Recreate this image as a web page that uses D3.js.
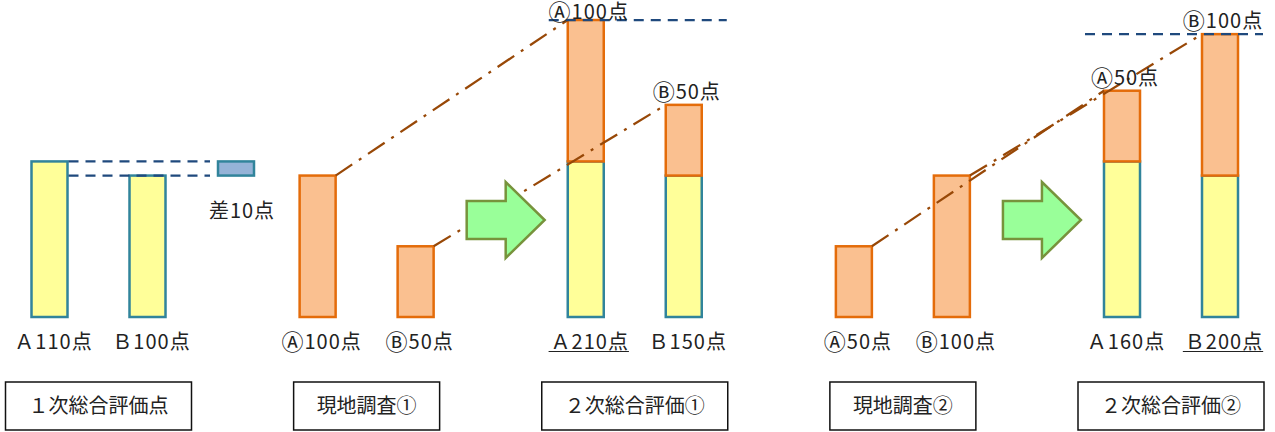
<!DOCTYPE html>
<html>
<head>
<meta charset="utf-8">
<script src="https://cdn.jsdelivr.net/npm/d3@7"></script>
<style>
    body { margin: 0; background: #fff; }
    svg text { font-family: "Noto Sans CJK JP", "Noto Sans", sans-serif; fill: #222; }
    svg tspan.circ { font-size: 22px; }
</style>
</head>
<body>
<svg id="chartSvg"></svg>
<script>
const stages = ["１次総合評価点", "現地調査①", "２次総合評価①", "現地調査②", "２次総合評価②"];
const candidates = ["A", "B"];
const wideLetters = ["Ａ", "Ｂ"];
const circledLetters = ["Ⓐ", "Ⓑ"];
const firstScores = [110, 100];
const surveyScores1 = [100, 50];
const surveyScores2 = [50, 100];
const unit = "点";

class Chart {

    constructor() {
        this.width = 1275;
        this.height = 432;
        this.barWidth = 36;
        this.draw();
    }

    // label text, with the circled letter in its own (bigger) tspan
    static label(sel) {
        sel.each(function (d) {
            let t = d3.select(this);
            if (d.circ) {
                t.append("tspan").attr("class", "circ").attr("dy", 1).text(d.circ);
                t.append("tspan").attr("dy", -1).text(d.t);
            } else {
                t.text(d.t);
            }
        });
    }

    draw() {
        let self = this;
        let bw = self.barWidth;

        let svg = d3.select("#chartSvg")
            .attr("width", self.width)
            .attr("height", self.height);

        let x = d3.scalePoint().domain(stages).range([98.5, 1171]);
        let xc = d3.scalePoint().domain(candidates).range([-49, 49]);
        let y = d3.scaleLinear().domain([0, 210]).range([317, 20]);

        let cx = (s, i) => x(stages[s]) + xc(candidates[i]);

        // second evaluations = first score + survey score
        let totals1 = firstScores.map((v, i) => v + surveyScores1[i]);
        let totals2 = firstScores.map((v, i) => v + surveyScores2[i]);

        let segments = [];
        candidates.forEach(function (c, i) {
            segments.push({ s: 0, i: i, lo: 0, hi: firstScores[i], kind: "base" });
            segments.push({ s: 1, i: i, lo: 0, hi: surveyScores1[i], kind: "survey" });
            segments.push({ s: 2, i: i, lo: 0, hi: firstScores[i], kind: "base" });
            segments.push({ s: 2, i: i, lo: firstScores[i], hi: totals1[i], kind: "survey" });
            segments.push({ s: 3, i: i, lo: 0, hi: surveyScores2[i], kind: "survey" });
            segments.push({ s: 4, i: i, lo: 0, hi: firstScores[i], kind: "base" });
            segments.push({ s: 4, i: i, lo: firstScores[i], hi: totals2[i], kind: "survey" });
        });

        let fills = { base: "#ffff99", survey: "#fac090" };
        let strokes = { base: "#31849b", survey: "#e46c0a" };

        svg.selectAll("rect.bar")
            .data(segments)
            .join("rect")
            .attr("class", "bar")
            .attr("x", d => cx(d.s, d.i) - bw / 2)
            .attr("y", d => y(d.hi))
            .attr("width", bw)
            .attr("height", d => y(d.lo) - y(d.hi))
            .style("fill", d => fills[d.kind])
            .style("stroke", d => strokes[d.kind])
            .style("stroke-width", 2.5);

        // difference box of the first evaluation
        let diffX = cx(0, 1) + 88.5;
        svg.append("rect")
            .attr("x", diffX - bw / 2)
            .attr("y", y(firstScores[0]))
            .attr("width", bw)
            .attr("height", y(firstScores[1]) - y(firstScores[0]))
            .style("fill", "#95b3d7")
            .style("stroke", "#31849b")
            .style("stroke-width", 2.5);

        svg.selectAll("line.diff")
            .data(firstScores)
            .join("line")
            .attr("class", "diff")
            .attr("x1", cx(0, 0) + bw / 2 + 1)
            .attr("x2", diffX - bw / 2 - 8)
            .attr("y1", d => y(d))
            .attr("y2", d => y(d))
            .style("stroke", "#1f497d")
            .style("stroke-width", 2.25)
            .style("stroke-dasharray", "10,7");

        svg.append("text")
            .attr("x", diffX + 6)
            .attr("y", 218)
            .attr("text-anchor", "middle")
            .style("font-size", "20px")
            .style("letter-spacing", "1px")
            .text("差" + (firstScores[0] - firstScores[1]) + unit);

        // dash-dot connectors from survey bars to the stacked bars
        let links = [];
        candidates.forEach(function (c, i) {
            links.push({ s: 1, i: i, from: surveyScores1[i], to: totals1[i] });
            links.push({ s: 3, i: i, from: surveyScores2[i], to: totals2[i] });
        });

        svg.selectAll("line.link")
            .data(links)
            .join("line")
            .attr("class", "link")
            .attr("x1", d => cx(d.s, d.i) + bw / 2)
            .attr("y1", d => y(d.from))
            .attr("x2", d => cx(d.s + 1, d.i) - bw / 2)
            .attr("y2", d => y(d.to))
            .style("stroke", "#984807")
            .style("stroke-width", 2.25)
            .style("stroke-dasharray", "20,8,3,8");

        // arrows
        let arrow = function (x0) {
            return "M" + x0 + ",201 L" + (x0 + 39) + ",201 L" + (x0 + 39) + ",182 L" + (x0 + 78) + ",220 L" +
                (x0 + 39) + ",258 L" + (x0 + 39) + ",239 L" + x0 + ",239 Z";
        };
        svg.selectAll("path.arrow")
            .data([1, 3])
            .join("path")
            .attr("class", "arrow")
            .attr("d", s => arrow((x(stages[s]) + x(stages[s + 1])) / 2 + 5 - 39))
            .style("fill", "#99ff99")
            .style("stroke", "#77933c")
            .style("stroke-width", 2.5);

        // leader line on the stacked stages
        let leaders = [{ s: 2, totals: totals1 }, { s: 4, totals: totals2 }];
        svg.selectAll("line.lead")
            .data(leaders)
            .join("line")
            .attr("class", "lead")
            .attr("x1", d => x(stages[d.s]) - 86)
            .attr("x2", d => x(stages[d.s]) + 92)
            .attr("y1", d => y(d3.max(d.totals)))
            .attr("y2", d => y(d3.max(d.totals)))
            .style("stroke", "#1f497d")
            .style("stroke-width", 2.25)
            .style("stroke-dasharray", "10,7");

        // labels under the bars
        let labels = [];
        candidates.forEach(function (c, i) {
            labels.push({ s: 0, i: i, t: wideLetters[i] + firstScores[i] + unit, u: false });
            labels.push({ s: 1, i: i, circ: circledLetters[i], t: surveyScores1[i] + unit, u: false });
            labels.push({ s: 2, i: i, t: wideLetters[i] + totals1[i] + unit, u: totals1[i] === d3.max(totals1) });
            labels.push({ s: 3, i: i, circ: circledLetters[i], t: surveyScores2[i] + unit, u: false });
            labels.push({ s: 4, i: i, t: wideLetters[i] + totals2[i] + unit, u: totals2[i] === d3.max(totals2) });
        });

        svg.selectAll("text.lab")
            .data(labels)
            .join("text")
            .attr("class", "lab")
            .attr("x", d => cx(d.s, d.i) + 4)
            .attr("y", 349)
            .attr("text-anchor", "middle")
            .style("font-size", "20px")
            .style("letter-spacing", "1px")
            .call(Chart.label)
            .each(function (d) {
                if (!d.u) return;
                let b = this.getBBox();
                svg.append("line")
                    .attr("x1", b.x - 2).attr("x2", b.x + b.width)
                    .attr("y1", 351.5).attr("y2", 351.5)
                    .style("stroke", "#222")
                    .style("stroke-width", 1.2);
            });

        // survey labels above the stacked bars
        let tops = [];
        candidates.forEach(function (c, i) {
            tops.push({ s: 2, i: i, circ: circledLetters[i], t: surveyScores1[i] + unit, top: totals1[i] });
            tops.push({ s: 4, i: i, circ: circledLetters[i], t: surveyScores2[i] + unit, top: totals2[i] });
        });
        svg.selectAll("text.top")
            .data(tops)
            .join("text")
            .attr("class", "top")
            .attr("x", d => cx(d.s, d.i) + 3)
            .attr("y", d => Math.max(y(d.top) - 6, 19))
            .attr("text-anchor", "middle")
            .style("font-size", "20px")
            .style("letter-spacing", "1px")
            .call(Chart.label);

        // stage boxes
        let boxes = svg.selectAll("g.stage")
            .data(stages)
            .join("g")
            .attr("class", "stage")
            .attr("transform", d => "translate(" + x(d) + ",0)");

        boxes.append("text")
            .attr("x", 0)
            .attr("y", 413)
            .attr("text-anchor", "middle")
            .style("font-size", "20px")
            .text(d => d);

        boxes.insert("rect", "text")
            .each(function () {
                let w = this.parentNode.querySelector("text").getComputedTextLength() + 46;
                d3.select(this)
                    .attr("x", -w / 2)
                    .attr("width", w);
            })
            .attr("y", 382)
            .attr("height", 48)
            .style("fill", "#fff")
            .style("stroke", "#111")
            .style("stroke-width", 1.5);
    }
}

new Chart();
</script>
</body>
</html>
